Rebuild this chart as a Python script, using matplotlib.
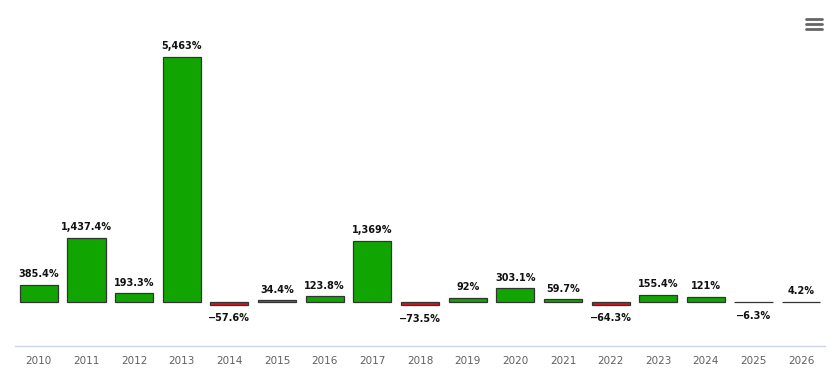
import matplotlib.pyplot as plt
from matplotlib.lines import Line2D

years = ['2010', '2011', '2012', '2013', '2014', '2015', '2016', '2017', '2018',
         '2019', '2020', '2021', '2022', '2023', '2024', '2025', '2026']
returns = [385.4, 1437.4, 193.3, 5463, -57.6, 34.4, 123.8, 1369, -73.5,
           92, 303.1, 59.7, -64.3, 155.4, 121, -6.3, 4.2]
labels = ['385.4%', '1,437.4%', '193.3%', '5,463%', '\u221257.6%', '34.4%', '123.8%',
          '1,369%', '\u221273.5%', '92%', '303.1%', '59.7%', '\u221264.3%', '155.4%',
          '121%', '\u22126.3%', '4.2%']

GREEN = '#10a500'
RED = '#d9141c'

fig = plt.figure(figsize=(8.3, 3.71), dpi=100)
ax = fig.add_axes([15 / 830, 25 / 371, 810 / 830, 336 / 371])

x = list(range(len(years)))
colors = [GREEN if v >= 0 else RED for v in returns]
ax.bar(x, returns, width=0.8, color=colors, edgecolor='#333333', linewidth=0.9)

# data labels above / below the bars
for i, (v, lab) in enumerate(zip(returns, labels)):
    if v >= 0:
        ax.annotate(lab, (i, v), xytext=(0, 4), textcoords='offset points',
                    ha='center', va='bottom', fontsize=7, fontweight='bold',
                    color='#111111')
    else:
        ax.annotate(lab, (i, v), xytext=(0, -6), textcoords='offset points',
                    ha='center', va='top', fontsize=7, fontweight='bold',
                    color='#111111')

ax.set_xlim(-0.5, len(years) - 0.5)
ax.set_ylim(-981, 6511)
ax.set_xticks(x)
ax.set_xticklabels(years, fontsize=7.5, color='#606060')
ax.tick_params(axis='x', length=0, pad=7)
ax.set_yticks([])
for side in ['top', 'right', 'left']:
    ax.spines[side].set_visible(False)
ax.spines['bottom'].set_color('#ccd6eb')
ax.spines['bottom'].set_linewidth(1)

# menu icon in the corner
for yy in [19, 24, 29]:
    fig.add_artist(Line2D([806 / 830, 822 / 830], [1 - yy / 371, 1 - yy / 371],
                          color='#666666', linewidth=2.0, solid_capstyle='round'))

fig.savefig('out.png', dpi=100)
